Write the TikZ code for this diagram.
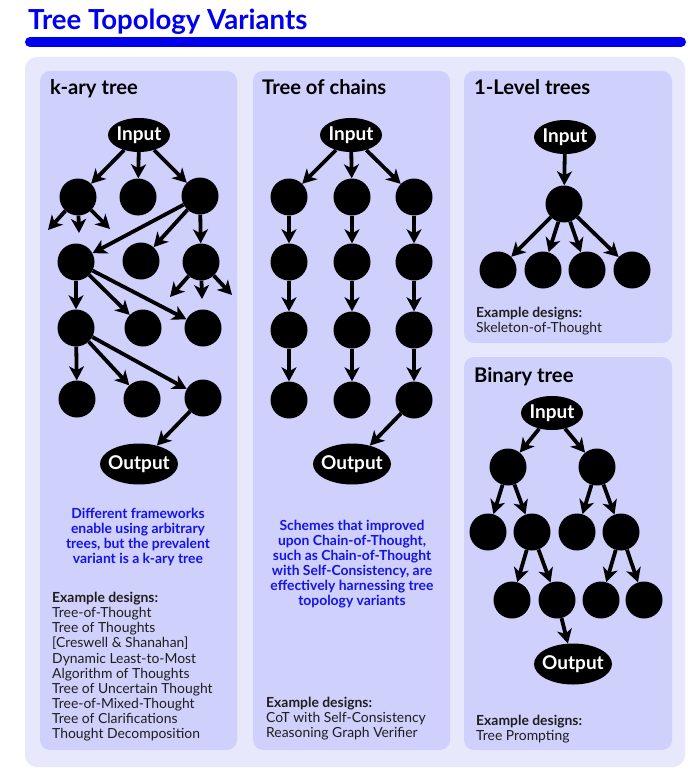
\documentclass[tikz,border=0pt]{standalone}
\usepackage{fontspec}
\setmainfont{Lato}
\usetikzlibrary{shapes.geometric,arrows.meta}
\definecolor{outerc}{RGB}{232,232,252}
\definecolor{panelc}{RGB}{208,208,252}
\definecolor{titleblue}{RGB}{0,0,238}
\definecolor{txtblue}{RGB}{20,20,232}
\definecolor{txtdark}{RGB}{30,30,30}
\begin{document}
\begin{tikzpicture}[x=1pt,y=-1pt,
  dot/.style={circle,fill=black,minimum size=37pt,inner sep=0pt},
  io/.style={ellipse,fill=black,text=white,font=\fontsize{19}{19}\selectfont\bfseries,inner xsep=-5pt,inner ysep=-2pt},
  inp/.style={io,minimum width=62pt,minimum height=34pt},
  outp/.style={io,minimum width=78pt,minimum height=41pt},
  arr/.style={line width=3.8pt,-{Stealth[length=14pt,width=15pt,inset=4pt]}},
  panel/.style={fill=panelc,rounded corners=10pt},
  ptitle/.style={anchor=base west,inner sep=0pt,font=\fontsize{20.2}{20}\selectfont\bfseries},
  bluetext/.style={anchor=north,align=center,inner sep=0pt,text=txtblue,font=\fontsize{13.9}{15}\selectfont\bfseries},
  extext/.style={anchor=north west,align=left,inner sep=0pt,text=txtdark,font=\fontsize{13.9}{15.15}\selectfont}
  ]
\useasboundingbox (0,0) rectangle (698,778);
\fill[white] (0,0) rectangle (698,778);
% title
\node[anchor=base west,inner sep=0pt,text=titleblue,font=\fontsize{27.6}{27}\selectfont\bfseries] (title) at (28,30) {Tree Topology Variants};
\draw[titleblue,line width=10pt,line cap=round] (30,42) -- (681,42);
% boxes
\fill[outerc,rounded corners=12pt] (25,57) rectangle (685,767);
\fill[panel] (40,71) rectangle (237,750);
\fill[panel] (253,71) rectangle (450,750);
\fill[panel] (464,71) rectangle (672,343);
\fill[panel] (464,357) rectangle (672,750);
\node[ptitle] (t1) at (50,95) {k-ary tree};
\node[ptitle] (t2) at (262,95) {Tree of chains};
\node[ptitle] (t3) at (474,95) {1-Level trees};
\node[ptitle] (t4) at (474,382) {Binary tree};

% ---- k-ary tree
\node[inp] (in1) at (139,135) {Input};
\node[dot] (a1) at (78,197) {};
\node[dot] (a2) at (138,197) {};
\node[dot] (a3) at (200,196) {};
\node[dot] (b1) at (76,262) {};
\node[dot] (b2) at (141,261) {};
\node[dot] (b3) at (201,262) {};
\node[dot] (c1) at (76,328) {};
\node[dot] (c2) at (143,328) {};
\node[dot] (c3) at (203,328) {};
\node[dot] (d1) at (77,399) {};
\node[dot] (d2) at (142,399) {};
\node[dot] (d3) at (203,398) {};
\node[outp] (out1) at (139,464) {Output};
\coordinate (s1) at (48,230);
\coordinate (s2) at (79,233);
\coordinate (s3) at (110,229);
\coordinate (s4) at (170,297);
\coordinate (s5) at (202,299);
\coordinate (s6) at (232,295);
\draw[arr] (in1) -- (a1);
\draw[arr] (in1) -- (a2);
\draw[arr] (in1) -- (a3);
\draw[arr] (a1) -- (s1);
\draw[arr] (a1) -- (s2);
\draw[arr] (a1) -- (s3);
\draw[arr] (a3) -- (b1);
\draw[arr] (a3) -- (b2);
\draw[arr] (a3) -- (b3);
\draw[arr] (b3) -- (s4);
\draw[arr] (b3) -- (s5);
\draw[arr] (b3) -- (s6);
\draw[arr] (b1) -- (c1);
\draw[arr] (b1) -- (c2);
\draw[arr] (b1) -- (c3);
\draw[arr] (c1) -- (d1);
\draw[arr] (c1) -- (d2);
\draw[arr] (c1) -- (d3);
\draw[arr] (d3) -- (out1);
\node[bluetext] (bt1) at (138,508) {Different frameworks\\enable using arbitrary\\trees, but the prevalent\\variant is a k-ary tree};
\node[extext] (ex1) at (52,592) {\textbf{Example designs:}\\Tree-of-Thought\\Tree of Thoughts\\{[Creswell \& Shanahan]}\\Dynamic Least-to-Most\\Algorithm of Thoughts\\Tree of Uncertain Thought\\Tree-of-Mixed-Thought\\Tree of Clarifications\\Thought Decomposition};

% ---- tree of chains
\node[inp] (in2) at (351,135) {Input};
\foreach \c/\x in {1/289,2/352,3/414}{
  \node[dot] (r1c\c) at (\x,197) {};
  \node[dot] (r2c\c) at (\x,262) {};
  \node[dot] (r3c\c) at (\x,330) {};
  \node[dot] (r4c\c) at (\x,400) {};
  \draw[arr] (in2) -- (r1c\c);
  \draw[arr] (r1c\c) -- (r2c\c);
  \draw[arr] (r2c\c) -- (r3c\c);
  \draw[arr] (r3c\c) -- (r4c\c);
}
\node[outp] (out2) at (352,464) {Output};
\draw[arr] (r4c3) -- (out2);
\node[bluetext] (bt2) at (352,520) {Schemes that improved\\upon Chain-of-Thought,\\such as Chain-of-Thought\\with Self-Consistency, are\\effectively harnessing tree\\topology variants};
\node[extext] (ex2) at (266,697) {\textbf{Example designs:}\\CoT with Self-Consistency\\Reasoning Graph Verifier};

% ---- 1-level trees
\node[inp] (in3) at (565,137) {Input};
\node[dot] (m) at (564,204) {};
\draw[arr] (in3) -- (m);
\foreach \i/\x in {1/498,2/543,3/587,4/632}{
  \node[dot] (f\i) at (\x,270) {};
  \draw[arr] (m) -- (f\i);
}
\node[extext] (ex3) at (476,306.5) {\textbf{Example designs:}\\Skeleton-of-Thought};

% ---- binary tree
\node[inp] (in4) at (552,413) {Input};
\node[dot] (g1) at (508,467) {};
\node[dot] (g2) at (597,467) {};
\node[dot] (h1) at (488,532) {};
\node[dot] (h2) at (532,532) {};
\node[dot] (h3) at (577,532) {};
\node[dot] (h4) at (621,532) {};
\node[dot] (k1) at (512,600) {};
\node[dot] (k2) at (557,600) {};
\node[dot] (k3) at (601,600) {};
\node[dot] (k4) at (644,600) {};
\node[outp] (out4) at (573,664) {Output};
\draw[arr] (in4) -- (g1);
\draw[arr] (in4) -- (g2);
\draw[arr] (g1) -- (h1);
\draw[arr] (g1) -- (h2);
\draw[arr] (g2) -- (h3);
\draw[arr] (g2) -- (h4);
\draw[arr] (h2) -- (k1);
\draw[arr] (h2) -- (k2);
\draw[arr] (h4) -- (k3);
\draw[arr] (h4) -- (k4);
\draw[arr] (k2) -- (out4);
\node[extext] (ex4) at (476,714.5) {\textbf{Example designs:}\\Tree Prompting};
\end{tikzpicture}
\end{document}
